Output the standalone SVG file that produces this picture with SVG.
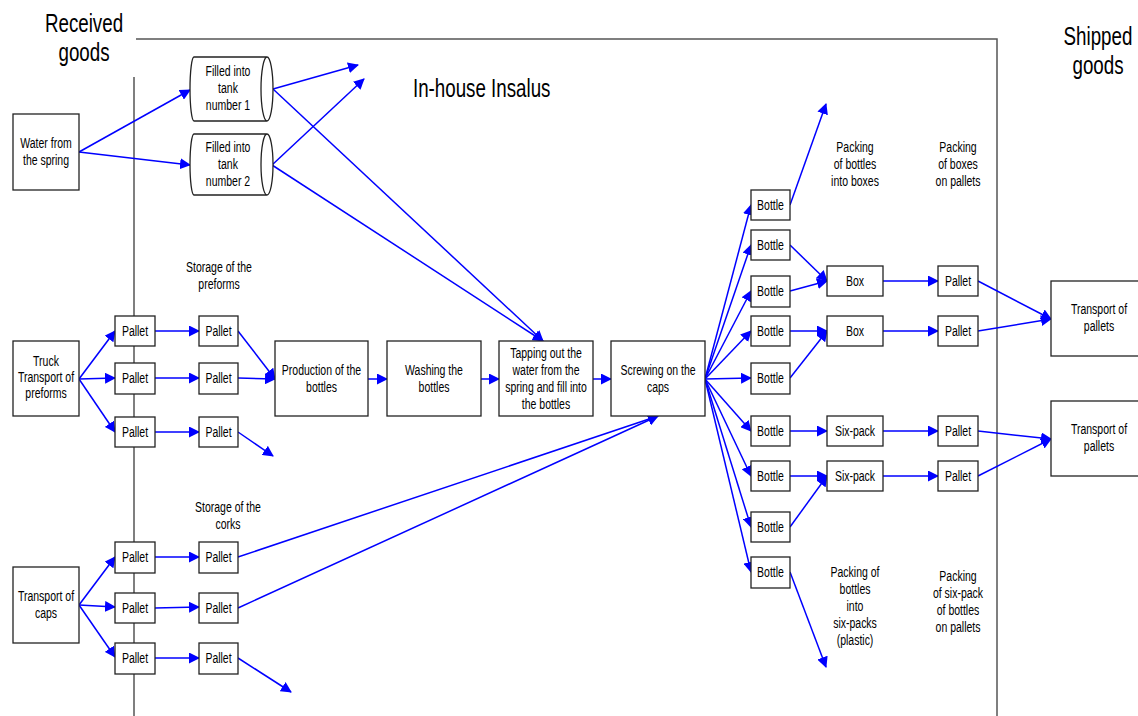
<svg xmlns="http://www.w3.org/2000/svg" width="1138" height="716" viewBox="0 0 1138 716">
  <defs>
    <marker id="ah" markerUnits="userSpaceOnUse" markerWidth="11" markerHeight="11" refX="10" refY="5.5" orient="auto">
      <path d="M0,0 L11,5.5 L0,11 Z" fill="#0000ff"/>
    </marker>
    <style>
      .box { fill: #ffffff; stroke: #222222; stroke-width: 1.3; }
      .frame { fill: none; stroke: #555555; stroke-width: 1.5; }
      .t { font-family: "Liberation Sans", Arial, sans-serif; font-size: 14px; fill: #000000; text-anchor: middle; }
      .big { font-family: "Liberation Sans", Arial, sans-serif; font-size: 25px; fill: #000000; text-anchor: middle; }
      .conn line { stroke: #0000ff; stroke-width: 1.5; marker-end: url(#ah); }
    </style>
  </defs>
  <rect width="1138" height="716" fill="#ffffff"/>

  <!-- boundary lines -->
  <g id="frame">
    <path class="frame" d="M136,39 H997 V716"/>
    <path class="frame" d="M134,77 V716"/>
  </g>

  <!-- titles -->
  <g id="titles">
    <text class="big" transform="translate(84 32) scale(.75 1)"><tspan x="0">Received</tspan><tspan x="0" dy="29">goods</tspan></text>
    <text class="big" transform="translate(1098 45) scale(.75 1)"><tspan x="0">Shipped</tspan><tspan x="0" dy="29">goods</tspan></text>
    <text class="big" style="text-anchor:start" transform="translate(413 97) scale(.75 1)">In-house Insalus</text>
  </g>

  <!-- connectors -->
  <g id="connectors" class="conn">
    <line x1="79" y1="152" x2="190" y2="90"/>
    <line x1="79" y1="152" x2="190" y2="165"/>
    <line x1="273" y1="89" x2="358" y2="65"/>
    <line x1="272" y1="165" x2="364" y2="79"/>
    <line x1="273" y1="89" x2="543" y2="341"/>
    <line x1="272" y1="165" x2="543" y2="341"/>

    <line x1="79" y1="379" x2="115" y2="331"/>
    <line x1="79" y1="379" x2="115" y2="378"/>
    <line x1="79" y1="379" x2="115" y2="432"/>
    <line x1="155" y1="331" x2="199" y2="331"/>
    <line x1="155" y1="378" x2="199" y2="378"/>
    <line x1="155" y1="432" x2="199" y2="432"/>
    <line x1="238" y1="331" x2="275" y2="379"/>
    <line x1="238" y1="378" x2="275" y2="379"/>
    <line x1="238" y1="432" x2="273" y2="456"/>
    <line x1="368" y1="379" x2="387" y2="379"/>
    <line x1="481" y1="379" x2="499" y2="379"/>
    <line x1="593" y1="379" x2="611" y2="379"/>

    <line x1="79" y1="605" x2="115" y2="557"/>
    <line x1="79" y1="605" x2="115" y2="607"/>
    <line x1="79" y1="605" x2="115" y2="657"/>
    <line x1="155" y1="557" x2="199" y2="557"/>
    <line x1="155" y1="608" x2="199" y2="607"/>
    <line x1="155" y1="658" x2="199" y2="658"/>
    <line x1="238" y1="557" x2="658" y2="416"/>
    <line x1="238" y1="608" x2="658" y2="416"/>
    <line x1="238" y1="658" x2="291" y2="692"/>

    <line x1="705" y1="379" x2="751" y2="205"/>
    <line x1="705" y1="379" x2="751" y2="245"/>
    <line x1="705" y1="379" x2="751" y2="291"/>
    <line x1="705" y1="379" x2="751" y2="331"/>
    <line x1="705" y1="379" x2="751" y2="378"/>
    <line x1="705" y1="379" x2="751" y2="431"/>
    <line x1="705" y1="379" x2="751" y2="476"/>
    <line x1="705" y1="379" x2="751" y2="527"/>
    <line x1="705" y1="379" x2="751" y2="572"/>

    <line x1="790" y1="205" x2="826" y2="104"/>
    <line x1="790" y1="245" x2="827" y2="281"/>
    <line x1="790" y1="291" x2="827" y2="281"/>
    <line x1="790" y1="331" x2="827" y2="331"/>
    <line x1="790" y1="378" x2="827" y2="331"/>
    <line x1="790" y1="431" x2="827" y2="431"/>
    <line x1="790" y1="476" x2="827" y2="476"/>
    <line x1="790" y1="527" x2="827" y2="476"/>
    <line x1="790" y1="572" x2="826" y2="667"/>

    <line x1="883" y1="281" x2="938" y2="281"/>
    <line x1="883" y1="331" x2="938" y2="331"/>
    <line x1="883" y1="431" x2="938" y2="431"/>
    <line x1="883" y1="476" x2="938" y2="476"/>

    <line x1="978" y1="281" x2="1051" y2="319"/>
    <line x1="978" y1="331" x2="1051" y2="319"/>
    <line x1="978" y1="431" x2="1051" y2="439"/>
    <line x1="978" y1="476" x2="1051" y2="439"/>
  </g>

  <!-- water source and tanks -->
  <g id="water">
    <rect class="box" x="13" y="114" width="66" height="76"/>
    <text class="t" transform="translate(46 148) scale(.75 1)"><tspan x="0">Water from</tspan><tspan x="0" dy="17">the spring</tspan></text>
  </g>
  <g id="tank1">
    <path class="box" d="M194,57 L267,57 A6,32 0 0 1 267,121 L194,121 A4,32 0 0 1 194,57 Z M267,57 A6,32 0 0 0 267,121"/>
    <text class="t" transform="translate(228 76) scale(.75 1)"><tspan x="0">Filled into</tspan><tspan x="0" dy="17">tank</tspan><tspan x="0" dy="17">number 1</tspan></text>
  </g>
  <g id="tank2">
    <path class="box" d="M194,134 L267,134 A6,30.5 0 0 1 267,195 L194,195 A4,30.5 0 0 1 194,134 Z M267,134 A6,30.5 0 0 0 267,195"/>
    <text class="t" transform="translate(228 152) scale(.75 1)"><tspan x="0">Filled into</tspan><tspan x="0" dy="17">tank</tspan><tspan x="0" dy="17">number 2</tspan></text>
  </g>

  <!-- preforms -->
  <g id="truck">
    <rect class="box" x="13" y="341" width="66" height="75"/>
    <text class="t" transform="translate(46 366) scale(.75 1)"><tspan x="0">Truck</tspan><tspan x="0" dy="16">Transport of</tspan><tspan x="0" dy="16">preforms</tspan></text>
  </g>
  <g id="pf-pallet-a1"><rect class="box" x="115" y="316" width="40" height="30"/><text class="t" transform="translate(135 336) scale(.75 1)">Pallet</text></g>
  <g id="pf-pallet-a2"><rect class="box" x="115" y="363" width="40" height="31"/><text class="t" transform="translate(135 383) scale(.75 1)">Pallet</text></g>
  <g id="pf-pallet-a3"><rect class="box" x="115" y="417" width="40" height="30"/><text class="t" transform="translate(135 437) scale(.75 1)">Pallet</text></g>
  <g id="pf-pallet-b1"><rect class="box" x="199" y="316" width="39" height="30"/><text class="t" transform="translate(218.5 336) scale(.75 1)">Pallet</text></g>
  <g id="pf-pallet-b2"><rect class="box" x="199" y="363" width="39" height="31"/><text class="t" transform="translate(218.5 383) scale(.75 1)">Pallet</text></g>
  <g id="pf-pallet-b3"><rect class="box" x="199" y="417" width="39" height="30"/><text class="t" transform="translate(218.5 437) scale(.75 1)">Pallet</text></g>
  <text class="t" transform="translate(219 272) scale(.75 1)"><tspan x="0">Storage of the</tspan><tspan x="0" dy="17">preforms</tspan></text>

  <!-- main line -->
  <g id="production">
    <rect class="box" x="275" y="341" width="93" height="75"/>
    <text class="t" transform="translate(321.5 375) scale(.75 1)"><tspan x="0">Production of the</tspan><tspan x="0" dy="17">bottles</tspan></text>
  </g>
  <g id="washing">
    <rect class="box" x="387" y="341" width="94" height="75"/>
    <text class="t" transform="translate(434 375) scale(.75 1)"><tspan x="0">Washing the</tspan><tspan x="0" dy="17">bottles</tspan></text>
  </g>
  <g id="tapping">
    <rect class="box" x="499" y="341" width="94" height="75"/>
    <text class="t" transform="translate(546 358) scale(.75 1)"><tspan x="0">Tapping out the</tspan><tspan x="0" dy="17">water from the</tspan><tspan x="0" dy="17">spring and fill into</tspan><tspan x="0" dy="17">the bottles</tspan></text>
  </g>
  <g id="screwing">
    <rect class="box" x="611" y="341" width="94" height="75"/>
    <text class="t" transform="translate(658 375) scale(.75 1)"><tspan x="0">Screwing on the</tspan><tspan x="0" dy="17">caps</tspan></text>
  </g>

  <!-- caps -->
  <g id="caps">
    <rect class="box" x="13" y="567" width="66" height="76"/>
    <text class="t" transform="translate(46 601) scale(.75 1)"><tspan x="0">Transport of</tspan><tspan x="0" dy="17">caps</tspan></text>
  </g>
  <g id="cp-pallet-a1"><rect class="box" x="115" y="542" width="40" height="31"/><text class="t" transform="translate(135 562) scale(.75 1)">Pallet</text></g>
  <g id="cp-pallet-a2"><rect class="box" x="115" y="593" width="40" height="30"/><text class="t" transform="translate(135 613) scale(.75 1)">Pallet</text></g>
  <g id="cp-pallet-a3"><rect class="box" x="115" y="643" width="40" height="31"/><text class="t" transform="translate(135 663) scale(.75 1)">Pallet</text></g>
  <g id="cp-pallet-b1"><rect class="box" x="199" y="542" width="39" height="31"/><text class="t" transform="translate(218.5 562) scale(.75 1)">Pallet</text></g>
  <g id="cp-pallet-b2"><rect class="box" x="199" y="593" width="39" height="30"/><text class="t" transform="translate(218.5 613) scale(.75 1)">Pallet</text></g>
  <g id="cp-pallet-b3"><rect class="box" x="199" y="643" width="39" height="31"/><text class="t" transform="translate(218.5 663) scale(.75 1)">Pallet</text></g>
  <text class="t" transform="translate(228 512) scale(.75 1)"><tspan x="0">Storage of the</tspan><tspan x="0" dy="17">corks</tspan></text>

  <!-- bottles -->
  <g id="bottle1"><rect class="box" x="751" y="190" width="39" height="30"/><text class="t" transform="translate(770.5 210) scale(.75 1)">Bottle</text></g>
  <g id="bottle2"><rect class="box" x="751" y="230" width="39" height="30"/><text class="t" transform="translate(770.5 250) scale(.75 1)">Bottle</text></g>
  <g id="bottle3"><rect class="box" x="751" y="276" width="39" height="31"/><text class="t" transform="translate(770.5 296) scale(.75 1)">Bottle</text></g>
  <g id="bottle4"><rect class="box" x="751" y="316" width="39" height="30"/><text class="t" transform="translate(770.5 336) scale(.75 1)">Bottle</text></g>
  <g id="bottle5"><rect class="box" x="751" y="363" width="39" height="31"/><text class="t" transform="translate(770.5 383) scale(.75 1)">Bottle</text></g>
  <g id="bottle6"><rect class="box" x="751" y="416" width="39" height="30"/><text class="t" transform="translate(770.5 436) scale(.75 1)">Bottle</text></g>
  <g id="bottle7"><rect class="box" x="751" y="461" width="39" height="30"/><text class="t" transform="translate(770.5 481) scale(.75 1)">Bottle</text></g>
  <g id="bottle8"><rect class="box" x="751" y="512" width="39" height="30"/><text class="t" transform="translate(770.5 532) scale(.75 1)">Bottle</text></g>
  <g id="bottle9"><rect class="box" x="751" y="557" width="39" height="31"/><text class="t" transform="translate(770.5 577) scale(.75 1)">Bottle</text></g>

  <!-- packing -->
  <g id="box1"><rect class="box" x="827" y="266" width="56" height="30"/><text class="t" transform="translate(855 286) scale(.75 1)">Box</text></g>
  <g id="box2"><rect class="box" x="827" y="316" width="56" height="30"/><text class="t" transform="translate(855 336) scale(.75 1)">Box</text></g>
  <g id="sixpack1"><rect class="box" x="827" y="416" width="56" height="30"/><text class="t" transform="translate(855 436) scale(.75 1)">Six-pack</text></g>
  <g id="sixpack2"><rect class="box" x="827" y="461" width="56" height="30"/><text class="t" transform="translate(855 481) scale(.75 1)">Six-pack</text></g>

  <g id="out-pallet1"><rect class="box" x="938" y="266" width="40" height="30"/><text class="t" transform="translate(958 286) scale(.75 1)">Pallet</text></g>
  <g id="out-pallet2"><rect class="box" x="938" y="316" width="40" height="30"/><text class="t" transform="translate(958 336) scale(.75 1)">Pallet</text></g>
  <g id="out-pallet3"><rect class="box" x="938" y="416" width="40" height="30"/><text class="t" transform="translate(958 436) scale(.75 1)">Pallet</text></g>
  <g id="out-pallet4"><rect class="box" x="938" y="461" width="40" height="30"/><text class="t" transform="translate(958 481) scale(.75 1)">Pallet</text></g>

  <g id="transport1">
    <rect class="box" x="1051" y="281" width="100" height="75"/>
    <text class="t" transform="translate(1099 314) scale(.75 1)"><tspan x="0">Transport of</tspan><tspan x="0" dy="17">pallets</tspan></text>
  </g>
  <g id="transport2">
    <rect class="box" x="1051" y="401" width="100" height="75"/>
    <text class="t" transform="translate(1099 434) scale(.75 1)"><tspan x="0">Transport of</tspan><tspan x="0" dy="17">pallets</tspan></text>
  </g>

  <!-- stage notes -->
  <g id="notes">
    <text class="t" transform="translate(855 152) scale(.75 1)"><tspan x="0">Packing</tspan><tspan x="0" dy="17">of bottles</tspan><tspan x="0" dy="17">into boxes</tspan></text>
    <text class="t" transform="translate(958 152) scale(.75 1)"><tspan x="0">Packing</tspan><tspan x="0" dy="17">of boxes</tspan><tspan x="0" dy="17">on pallets</tspan></text>
    <text class="t" transform="translate(855 577) scale(.75 1)"><tspan x="0">Packing of</tspan><tspan x="0" dy="17">bottles</tspan><tspan x="0" dy="17">into</tspan><tspan x="0" dy="17">six-packs</tspan><tspan x="0" dy="17">(plastic)</tspan></text>
    <text class="t" transform="translate(958 581) scale(.75 1)"><tspan x="0">Packing</tspan><tspan x="0" dy="17">of six-pack</tspan><tspan x="0" dy="17">of bottles</tspan><tspan x="0" dy="17">on pallets</tspan></text>
  </g>
</svg>
